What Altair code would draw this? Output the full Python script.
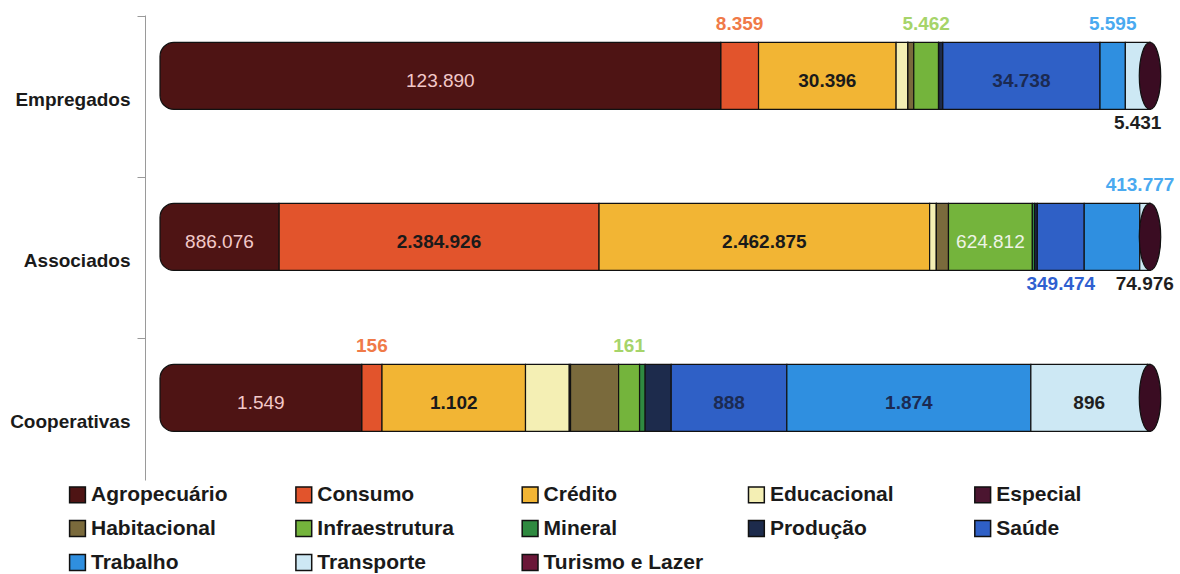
import altair as alt
import pandas as pd

# ---------------- data ----------------
rows = ["Empregados", "Associados", "Cooperativas"]
categories = ["Agropecuário", "Consumo", "Crédito", "Educacional", "Especial",
              "Habitacional", "Infraestrutura", "Mineral", "Produção", "Saúde",
              "Trabalho", "Transporte", "Turismo e Lazer"]
empregados = [123890, 8359, 30396, 2600, 6, 1300, 5462, 50, 900, 34738, 5595, 5431, 15]
associados = [886076, 2384926, 2462875, 50000, 400, 90000, 624812, 17000, 20000,
              349474, 413777, 74976, 1300]
cooperativas = [1549, 156, 1102, 336, 10, 369, 161, 43, 200, 888, 1874, 896, 19]

# which values are printed on the chart, and where
shown = {
    "Empregados":   ["in", "above", "in", "", "", "", "above", "", "", "in", "above", "below", ""],
    "Associados":   ["in", "in", "in", "", "", "", "in", "", "", "below", "above_r", "below", ""],
    "Cooperativas": ["in", "above", "in", "", "", "", "above", "", "", "in", "in", "in", ""],
}

# ---------------- styles ----------------
palette = ["#4e1414", "#e2542c", "#f2b534", "#f4efb4", "#4b1530", "#7a6a3c",
           "#74b43c", "#2f8a40", "#1d2b4c", "#2f60c6", "#2f8fe0", "#cde8f4", "#6b1738"]
inside_color = {"Agropecuário": "#f3c9c9", "Consumo": "#1a1a1a", "Crédito": "#1a1a1a",
                "Infraestrutura": "#eef3e6", "Saúde": "#1b2a52", "Trabalho": "#1b2a52",
                "Transporte": "#1f1f1f"}
inside_weight = {"Agropecuário": "normal", "Infraestrutura": "normal"}
outside_color = {"Consumo": "#f07a48", "Infraestrutura": "#a6d46a", "Trabalho": "#4aaaf0",
                 "Saúde": "#2f5fd0", "Transporte": "#1f1f1f"}

FONT = "Liberation Sans"

records = []
for r, vals in zip(rows, [empregados, associados, cooperativas]):
    for i, (c, v) in enumerate(zip(categories, vals)):
        pos = shown[r][i]
        lab = f"{v:,}".replace(",", ".") if pos else ""
        if pos == "in":
            tcol = inside_color.get(c, "#1a1a1a")
            w = inside_weight.get(c, "bold")
        else:
            tcol = outside_color.get(c, "#1a1a1a")
            w = "bold"
        records.append(dict(row=r, category=c, idx=i, value=v, label=lab,
                            pos=pos, tcol=tcol, weight=w))
df = pd.DataFrame(records)

base = alt.Chart(df).transform_stack(
    stack="value", groupby=["row"], as_=["x0", "x1"],
    sort=[alt.SortField("idx", order="ascending")], offset="normalize",
).transform_calculate(mid="(datum.x0 + datum.x1) / 2")

xscale = alt.Scale(domain=[-0.01515, 1.01515], nice=False, zero=False)
yscale = alt.Scale(paddingInner=0.3, paddingOuter=0.094, align=0.15)
yaxis = alt.Axis(title=None, labelFont=FONT, labelFontSize=19, labelFontWeight="bold",
                 labelColor="#1a1a1a", labelPadding=7, tickOffset=-60, labelOffset=84,
                 tickSize=8, tickColor="#9a9a9a",
                 domainColor="#9a9a9a", domainWidth=1)
Y = alt.Y("row:N", sort=rows, scale=yscale, axis=yaxis)
X = lambda f: alt.X(f, scale=xscale, axis=None)

color = alt.Color(
    "category:N",
    scale=alt.Scale(domain=categories, range=palette),
    legend=alt.Legend(
        title=None, orient="none", direction="horizontal", columns=5,
        legendX=-78, legendY=469, gridAlign="all", columnPadding=41.3, rowPadding=11,
        symbolType="square", symbolSize=250, symbolStrokeColor="#111",
        symbolStrokeWidth=1.5, labelFont=FONT, labelFontSize=21,
        labelFontWeight="bold", labelColor="#1a1a1a", labelLimit=300,
        labelOffset=3, padding=0,
    ),
)

bars = base.transform_filter("datum.idx > 0").mark_bar(
    height=67, stroke="#111", strokeWidth=1.2
).encode(x=X("x0:Q"), x2="x1:Q", y=Y, color=color)

first = base.transform_filter("datum.idx == 0").mark_bar(
    height=67, stroke="#111", strokeWidth=1.2,
    cornerRadiusTopLeft=14, cornerRadiusBottomLeft=14,
).encode(x=X("x0:Q"), x2="x1:Q", y=Y, color=color)

ellipse = "M0,-1 A0.32,1 0 1,1 0,1 A0.32,1 0 1,1 0,-1 Z"
cap = base.transform_filter(f"datum.idx == {len(categories) - 1}").mark_point(
    shape=ellipse, size=67 * 67, filled=True, fill="#3a0c22", stroke="#111",
    strokeWidth=1.2, opacity=1,
).encode(x=X("x1:Q"), y=Y)


def text_layer(cond, dy, weight, dx=0):
    return base.transform_filter(cond).mark_text(
        font=FONT, fontSize=19, fontWeight=weight, dy=dy, dx=dx, baseline="middle",
    ).encode(x=X("mid:Q"), y=Y, text="label:N",
             color=alt.Color("tcol:N", scale=None))


t_in_b = text_layer("datum.pos == 'in' && datum.weight == 'bold'", 5, "bold")
t_in_n = text_layer("datum.pos == 'in' && datum.weight == 'normal'", 5, "normal")
t_above = text_layer("datum.pos == 'above'", -52, "bold")
t_above_r = text_layer("datum.pos == 'above_r'", -52, "bold", dx=28)
t_below = text_layer("datum.pos == 'below'", 47, "bold")

chart = alt.layer(bars, first, cap, t_in_b, t_in_n, t_above, t_above_r, t_below).properties(
    width=1020, height=465,
    padding={"left": 145, "top": 15, "right": 15, "bottom": 94},
    autosize=alt.AutoSizeParams(type="none"),
    background="white",
).configure_view(stroke=None)

chart.save("out.html", embed_options={"renderer": "svg", "actions": False})
